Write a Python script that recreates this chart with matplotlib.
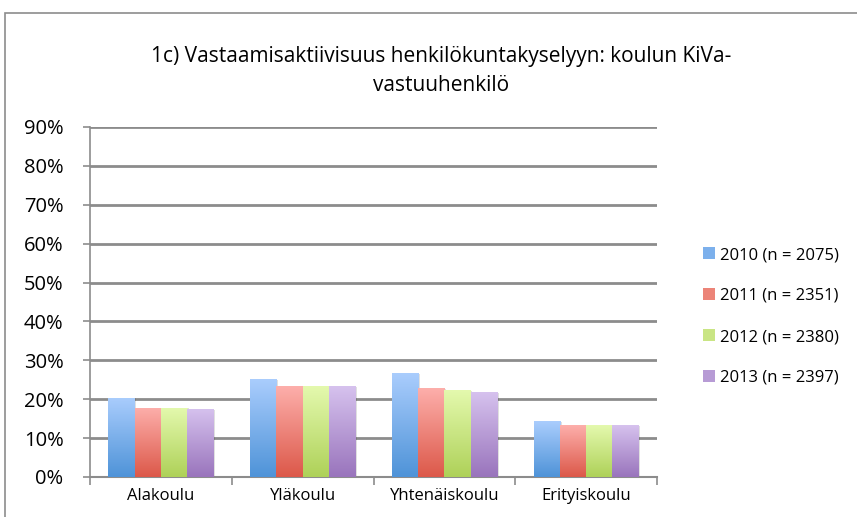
import numpy as np
import matplotlib
matplotlib.use("Agg")
import matplotlib.pyplot as plt
from matplotlib.patches import Rectangle
from matplotlib.colors import LinearSegmentedColormap

categories = ["Alakoulu", "Yläkoulu", "Yhtenäiskoulu", "Erityiskoulu"]
series_labels = ["2010 (n = 2075)", "2011 (n = 2351)", "2012 (n = 2380)", "2013 (n = 2397)"]
v2010 = [20.4, 25.1, 26.7, 14.4]
v2011 = [17.8, 23.3, 22.8, 13.3]
v2012 = [17.8, 23.3, 22.3, 13.3]
v2013 = [17.5, 23.3, 21.8, 13.3]
values = [v2010, v2011, v2012, v2013]
yticks = [0, 10, 20, 30, 40, 50, 60, 70, 80, 90]
title = "1c) Vastaamisaktiivisuus henkilökuntakyselyyn: koulun KiVa-\nvastuuhenkilö"

tops = ["#aacdfd", "#fdafab", "#e4f9ae", "#d6c2ee"]
bottoms = ["#4e93d8", "#dc5849", "#aed158", "#9974bc"]
mids = ["#7cb0ec", "#ec8478", "#c9e584", "#b79bd5"]

plt.rcParams['font.family'] = ['Open Sans', 'DejaVu Sans']

fig = plt.figure(figsize=(8.57, 5.17), dpi=100)
W, H = 857, 517
ax = fig.add_axes([90/W, 1-477/H, (657-90)/W, (477-127)/H])

# frame of chart
fig.patches.append(Rectangle((5/W, -0.1), 1.2, 1 - 13/H + 0.1, transform=fig.transFigure,
                             fill=False, edgecolor="#8c8c8c", linewidth=1.2))

n = len(values)
group_w = 0.74
bw = group_w / n
x = np.arange(len(categories))
for i, (vals, t, b, m) in enumerate(zip(values, tops, bottoms, mids)):
    xs = x - group_w/2 + bw*(i+0.5)
    cmap = LinearSegmentedColormap.from_list("g%d" % i, [b, t])
    bars = ax.bar(xs, vals, width=bw, color=m, label=series_labels[i], zorder=3,
                  linewidth=0)
    for bar in bars:
        x0, y0 = bar.get_x(), bar.get_y()
        w, h = bar.get_width(), bar.get_height()
        # shadow
        ax.add_patch(Rectangle((x0 + 0.012, y0), w, h - 0.15, color="#000000", alpha=0.12,
                               zorder=2.5, linewidth=0))
        grad = np.linspace(0, 1, 256).reshape(-1, 1)
        im = ax.imshow(grad, cmap=cmap, origin="lower", aspect="auto",
                       extent=(x0, x0 + w, y0, y0 + h), zorder=3.5)
        im.set_clip_path(bar)

ax.set_xlim(-0.5, len(categories) - 0.5)
ax.set_ylim(0, 90)
ax.set_yticks(yticks)
ax.set_yticklabels([f"{v}%" for v in yticks], fontsize=14.5)
ax.set_xticks(x)
ax.set_xticklabels(categories, fontsize=12)
ax.set_xticks(np.arange(len(categories) + 1) - 0.5, minor=True)
ax.tick_params(axis="x", which="major", length=0, pad=8)
ax.tick_params(axis="x", which="minor", length=6, color="#8c8c8c", width=1.2)
ax.tick_params(axis="y", length=5, color="#8c8c8c", width=1.2, pad=14)
ax.yaxis.grid(True, color="#8c8c8c", linewidth=2, zorder=0)
ax.set_axisbelow(True)
for s in ["top", "right"]:
    ax.spines[s].set_visible(False)
ax.spines["left"].set_color("#8c8c8c")
ax.spines["bottom"].set_color("#8c8c8c")
ax.spines["left"].set_linewidth(1.2)
ax.spines["bottom"].set_linewidth(1.5)

fig.text(441/W, 1-71/H, title, ha="center", va="center", fontsize=15, linespacing=1.5)

handles, labels = ax.get_legend_handles_labels()
leg = fig.legend(handles, labels, loc="upper left", bbox_to_anchor=(688/W, 1-232/H),
                 frameon=False, fontsize=12, handlelength=0.7, handleheight=0.7,
                 handletextpad=0.3, labelspacing=1.5)
for hnd, c in zip(leg.legend_handles, mids):
    hnd.set_facecolor(c)

fig.savefig("out.png", dpi=100)
